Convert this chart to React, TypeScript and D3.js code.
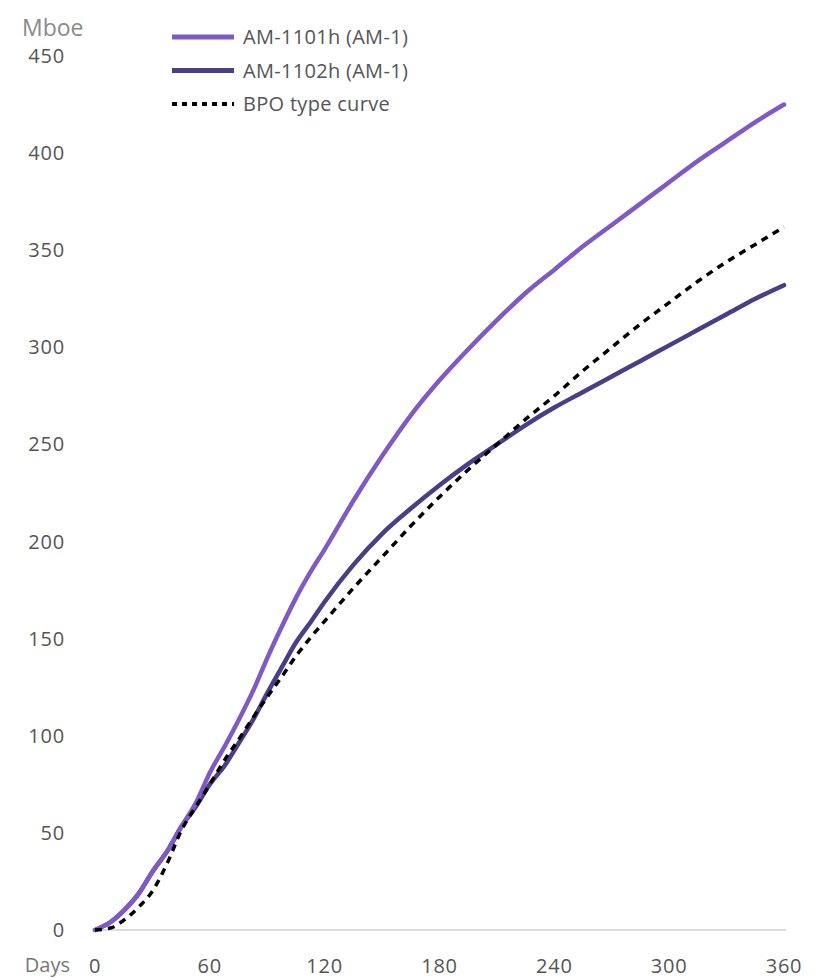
import React from "react";
import * as d3 from "d3";

const days = [0, 8, 15, 23, 30, 38, 45, 53, 60, 68, 75, 83, 90, 98, 105, 113, 120, 135, 150, 165, 180, 195, 210, 225, 240, 255, 270, 285, 300, 315, 330, 345, 360];
const am1101h = [0, 4, 10, 19, 30, 41, 53, 66, 81, 95, 108, 124, 140, 157, 171, 185, 196, 221, 244, 265, 283, 299, 314, 328, 340, 352, 363, 374, 385, 396, 406, 416, 425];
const am1102h = [0, 4, 10, 19, 30, 41, 53, 64, 75, 85, 96, 109, 122, 136, 148, 159, 169, 188, 204, 217, 229, 240, 250, 260, 269, 277, 285, 293, 301, 309, 317, 325, 332];
const bpoType = [0, 1, 5, 12, 20, 35, 51, 64, 75, 88, 98, 110, 120, 131, 141, 151, 159, 176, 192, 208, 223, 237, 250, 263, 275, 288, 300, 312, 323, 334, 344, 353, 362];

const yTicks = [0, 50, 100, 150, 200, 250, 300, 350, 400, 450];
const xTicks = [0, 60, 120, 180, 240, 300, 360];
const seriesNames = ["AM-1101h (AM-1)", "AM-1102h (AM-1)", "BPO type curve"];

const FONT = "'Open Sans', sans-serif";
const LIGHT = "#805ac4";
const DARK = "#4b3d86";

export default function App() {
  const x = d3.scaleLinear().domain([0, 360]).range([95, 784]);
  const y = d3.scaleLinear().domain([0, 450]).range([930, 56]);
  const line = (vals: number[]) =>
    d3.line<number>().x((_, i) => x(days[i])).y((v) => y(v)).curve(d3.curveMonotoneX)(vals) || "";

  const legend = [
    { name: seriesNames[0], color: LIGHT, dash: undefined as string | undefined, w: 5 },
    { name: seriesNames[1], color: DARK, dash: undefined, w: 5 },
    { name: seriesNames[2], color: "#000", dash: "5,5", w: 4 },
  ];

  return (
    <svg width={819} height={979} style={{ position: "absolute", left: 0, top: 0 }} fontFamily={FONT}>
      <rect width={819} height={979} fill="#fff" />
      <text x={22} y={36} fontSize={23} fill="#8a8a8a">Mboe</text>
      {yTicks.map((t) => (
        <text key={t} x={65} y={y(t) + 7} fontSize={20} fill="#555" textAnchor="end" letterSpacing={0.8}>
          {t}
        </text>
      ))}
      <line x1={x(0)} x2={x(360) + 2} y1={y(0)} y2={y(0)} stroke="#dcdcdc" strokeWidth={2} />
      <text x={70} y={972} fontSize={20} fill="#777" textAnchor="end">Days</text>
      {xTicks.map((t) => (
        <text key={t} x={x(t)} y={973} fontSize={20} fill="#555" textAnchor="middle" letterSpacing={0.8}>
          {t}
        </text>
      ))}
      <path d={line(am1102h)} fill="none" stroke={DARK} strokeWidth={4.5} strokeLinecap="round" strokeLinejoin="round" />
      <path d={line(am1101h)} fill="none" stroke={LIGHT} strokeWidth={4.5} strokeLinecap="round" strokeLinejoin="round" />
      <path d={line(bpoType)} fill="none" stroke="#000" strokeWidth={3.5} strokeDasharray="7,6" />
      {legend.map((l, i) => (
        <g key={l.name} transform={`translate(0, ${37 + i * 33.5})`}>
          <line x1={172} x2={234} y1={0} y2={0} stroke={l.color} strokeWidth={l.w} strokeDasharray={l.dash} />
          <text x={243} y={7} fontSize={20} fill="#555" letterSpacing={0.3}>{l.name}</text>
        </g>
      ))}
    </svg>
  );
}
